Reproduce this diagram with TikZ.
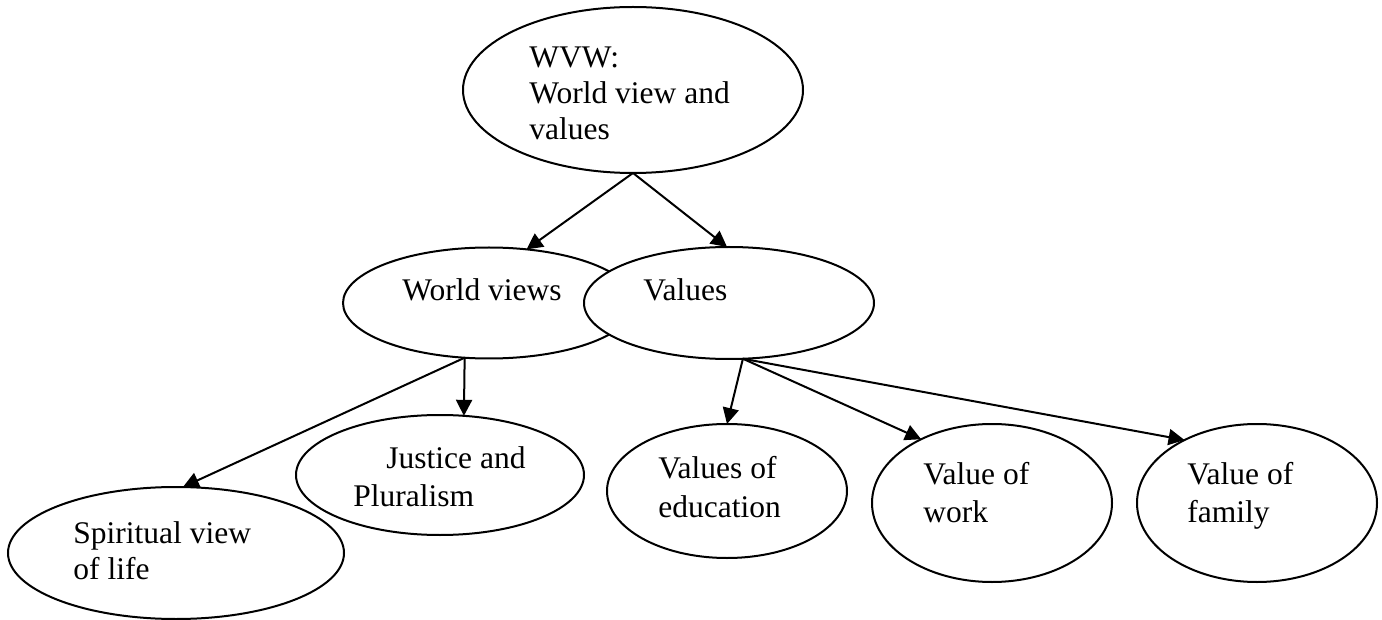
\documentclass[tikz,border=0pt]{standalone}
\usepackage{fontspec}
\setmainfont{Liberation Serif}
\usetikzlibrary{shapes.geometric,arrows.meta}

\begin{document}
\begin{tikzpicture}[x=0.5pt,y=-0.5pt,
  bubble/.style={draw,ellipse,fill=white,line width=1pt,inner sep=0pt,outer sep=0pt},
  label text/.style={anchor=base west,inner sep=0pt,font=\fontsize{15.75pt}{18pt}\selectfont},
  link/.style={line width=1pt,-{Triangle[length=8pt,width=8pt]}}]
\useasboundingbox (0,0) rectangle (1382,620);

% top node
\node[bubble,minimum width=170pt,minimum height=83pt] (wvw) at (633,90) {};
\node[label text] (wvwt) at (529,68)
  {\vtop{\baselineskip=18pt\hbox{WVW:}\hbox{World view and}\hbox{values}}};

% second level (Values overlaps World views)
\node[bubble,minimum width=146pt,minimum height=55.5pt] (wv) at (489,303) {};
\node[bubble,minimum width=145pt,minimum height=56pt] (v) at (729,303) {};
\node[label text] (wvt) at (402,300) {World views};
\node[label text] (vt) at (643,300) {Values};

% third level
\node[bubble,minimum width=168pt,minimum height=66pt] (sp) at (176,553) {};
\node[label text] (spt) at (73,543)
  {\vtop{\baselineskip=18pt\hbox{Spiritual view}\hbox{of life}}};

\node[bubble,minimum width=144pt,minimum height=60pt] (jp) at (440,475) {};
\node[label text] (jpt) at (353,468)
  {\vtop{\baselineskip=19pt\hbox{\hskip16.5pt Justice and}\hbox{Pluralism}}};

\node[bubble,minimum width=120pt,minimum height=67pt] (edu) at (727,491) {};
\node[label text] (edut) at (658,478)
  {\vtop{\baselineskip=19.5pt\hbox{Values of}\hbox{education}}};

\node[bubble,minimum width=120pt,minimum height=79pt] (work) at (992,503) {};
\node[label text] (workt) at (923,484)
  {\vtop{\baselineskip=19pt\hbox{Value of}\hbox{work}}};

\node[bubble,minimum width=120pt,minimum height=79pt] (fam) at (1257,503) {};
\node[label text] (famt) at (1187,484)
  {\vtop{\baselineskip=19pt\hbox{Value of}\hbox{family}}};

% connectors
\draw[link] (wvw.south) -- (wv.55);
\draw[link] (wvw.south) -- (v.92);
\draw[link] (wv.246) -- (jp.68);
\draw[link] (wv.246) -- (sp.84);
\draw[link] (v.284) -- (edu.north);
\draw[link] (v.284) -- (work.138);
\draw[link] (v.284) -- (fam.139);
\end{tikzpicture}
\end{document}
